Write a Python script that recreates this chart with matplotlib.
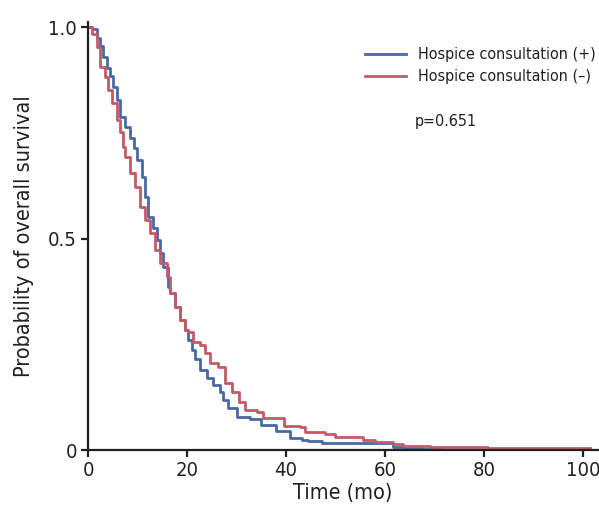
import matplotlib
matplotlib.use("Agg")
import matplotlib.pyplot as plt
from matplotlib import font_manager

# look for a narrow face, the reference uses a condensed sans
names = {f.name for f in font_manager.fontManager.ttflist}
cond = [f for f in font_manager.fontManager.ttflist
        if f.name == 'DejaVu Sans' and 'Condensed' in f.fname and f.style == 'normal'
        and f.weight in (400, 'normal')]
if 'Liberation Sans Narrow' in names:
    plt.rcParams['font.family'] = ['Liberation Sans Narrow', 'DejaVu Sans']
    fs = 14
elif cond:
    plt.rcParams['font.family'] = ['DejaVu Sans']
    plt.rcParams['font.stretch'] = 'condensed'
    fs = 14
else:
    plt.rcParams['font.family'] = ['Liberation Sans', 'DejaVu Sans']
    fs = 13

# step points (time in months, survival)
t_pos = [0, 0.75, 1.76, 2.42, 3.09, 3.78, 4.44, 5.11, 5.8, 6.46, 7.47, 8.48, 9.29,
         9.84, 10.85, 11.52, 12.18, 13.19, 13.88, 14.55, 15.21, 16.22, 16.57, 17.58,
         18.59, 19.6, 20.26, 20.95, 21.6, 22.6, 23.97, 25.3, 26.7, 27.3, 28.3, 30.0,
         32.7, 35.0, 38.0, 40.8, 43.2, 44.4, 47.2, 57.6, 61.6, 63.6, 67.4, 71.6]
s_pos = [1.0, 0.995, 0.975, 0.955, 0.93, 0.903, 0.885, 0.859, 0.827, 0.788, 0.764,
         0.738, 0.714, 0.686, 0.646, 0.599, 0.552, 0.525, 0.496, 0.466, 0.433, 0.386,
         0.371, 0.339, 0.307, 0.284, 0.260, 0.236, 0.215, 0.189, 0.170, 0.154, 0.138,
         0.118, 0.099, 0.079, 0.073, 0.060, 0.045, 0.028, 0.025, 0.021, 0.018, 0.016,
         0.008, 0.006, 0.003, 0.003]

t_neg = [0, 0.75, 1.76, 2.42, 3.43, 4.1, 4.79, 5.8, 6.46, 7.13, 7.47, 8.48, 9.49,
         10.5, 11.52, 12.53, 13.54, 14.55, 15.9, 16.57, 17.58, 18.59, 19.6, 20.26,
         21.27, 22.6, 23.6, 24.6, 26.3, 27.7, 29.0, 30.4, 31.7, 34.1, 35.4, 37.4,
         39.5, 42.8, 43.8, 47.9, 49.9, 55.6, 58.0, 61.7, 63.6, 69.0, 80.8, 101.5]
s_neg = [1.0, 0.985, 0.953, 0.906, 0.883, 0.851, 0.820, 0.780, 0.752, 0.717, 0.693,
         0.655, 0.622, 0.575, 0.544, 0.513, 0.473, 0.442, 0.410, 0.371, 0.339, 0.307,
         0.284, 0.280, 0.256, 0.248, 0.229, 0.206, 0.196, 0.158, 0.138, 0.114, 0.096,
         0.091, 0.077, 0.075, 0.057, 0.055, 0.043, 0.038, 0.031, 0.025, 0.020, 0.014,
         0.009, 0.008, 0.004, 0.004]

labels = ['Hospice consultation (+)', 'Hospice consultation (\u2013)']
colors = ['#4a67a6', '#c45a68']
p_text = 'p=0.651'
ink = '#231f20'

fig = plt.figure(figsize=(5.99, 5.18), dpi=100)
ax = fig.add_axes([0.147, 0.131, 0.851, 0.826])

ax.step(t_pos, s_pos, where='post', color=colors[0], lw=2, label=labels[0])
ax.step(t_neg, s_neg, where='post', color=colors[1], lw=2, label=labels[1])

ax.set_xlim(0, 103)
ax.set_ylim(0, 1.012)
ax.set_xticks([0, 20, 40, 60, 80, 100])
ax.set_yticks([0, 0.5, 1.0])
ax.set_yticklabels(['0', '0.5', '1.0'])
for s in ['top', 'right']:
    ax.spines[s].set_visible(False)
for s in ['left', 'bottom']:
    ax.spines[s].set_linewidth(1.6)
    ax.spines[s].set_color(ink)
ax.tick_params(length=5, width=1.6, labelsize=fs + 0.5, color=ink, labelcolor=ink, pad=3)

ax.set_xlabel('Time (mo)', fontsize=fs + 1.5, color=ink, labelpad=2)
ax.set_ylabel('Probability of overall survival', fontsize=fs + 1.5, color=ink, labelpad=10)

ax.legend(loc='upper left', bbox_to_anchor=(0.543, 0.942), frameon=False,
          borderaxespad=0, borderpad=0, fontsize=fs - 2.5, handlelength=2.6,
          handletextpad=0.7, labelspacing=0.45, labelcolor=ink)
ax.text(0.641, 0.769, p_text, transform=ax.transAxes, fontsize=fs - 2.5,
        color=ink, va='center')

fig.savefig('out.png', dpi=100)
